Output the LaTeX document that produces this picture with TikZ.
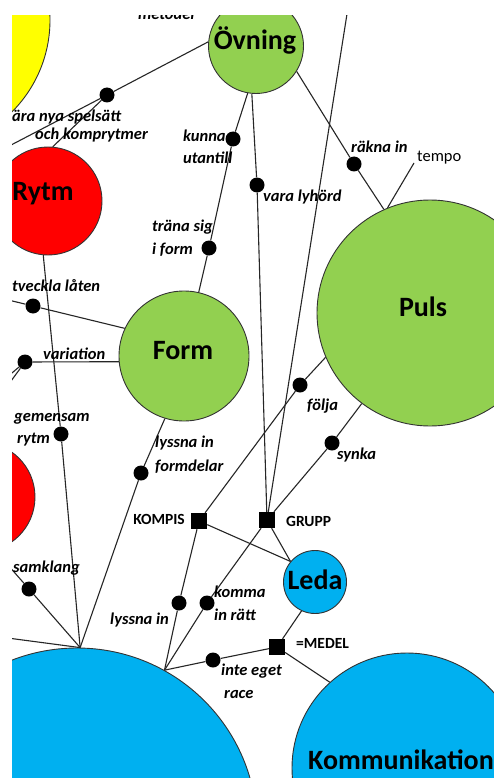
\documentclass[tikz,border=0pt]{standalone}
\usepackage{fontspec}
\setmainfont{Carlito}
\definecolor{gr}{HTML}{92D050}
\definecolor{bl}{HTML}{00B0F0}
\definecolor{rd}{HTML}{FF0000}
\definecolor{yl}{HTML}{FFFF00}
\begin{document}
\begin{tikzpicture}[x=1pt,y=-1pt,
  bub/.style={circle,draw=black!80,line width=0.9pt,inner sep=0pt,minimum size=#1},
  ttl/.style={font=\fontsize{28}{30}\selectfont\bfseries,inner sep=0pt},
  bead/.style={circle,fill=black,inner sep=0pt,minimum size=15pt},
  sq/.style={rectangle,fill=black,inner sep=0pt,minimum size=16pt},
  lnk/.style={line width=1.1pt,draw=black!85},
  lab/.style={font=\fontsize{16.5}{18}\selectfont\bfseries\itshape,inner sep=0pt,anchor=base west},
  uptag/.style={font=\fontsize{16.5}{18}\selectfont,inner sep=0pt,anchor=base west},
  captag/.style={font=\fontsize{15.5}{18}\selectfont\bfseries,inner sep=0pt,anchor=base west},
]
\useasboundingbox (0,0) rectangle (494,778);
\fill[white] (0,0) rectangle (494,778);
\begin{scope}
\clip (12,16) rectangle (494,778);
% bubbles
\node[bub=260pt,fill=yl] (yel) at (-80,20) {};
\node[bub=95pt,fill=gr] (ovn) at (256,46) {};
\node[bub=108pt,fill=rd] (rytm) at (48,201) {};
\node[bub=130pt,fill=gr] (form) at (184,356) {};
\node[bub=226pt,fill=gr] (puls) at (430,313) {};
\node[bub=110pt,fill=rd] (red2) at (-20,497) {};
\node[bub=360pt,fill=bl] (bigb) at (77,828) {};
\node[bub=63pt,fill=bl] (leda) at (315,582) {};
\node[bub=230pt,fill=bl] (komm) at (407,768) {};
% titles
\node[ttl] (tOvn) at (255,40) {Övning};
\node[ttl] (tRytm) at (43,194) {Rytm};
\node[ttl] (tForm) at (183,351) {Form};
\node[ttl] (tPuls) at (423,307) {Puls};
\node[ttl] (tLeda) at (315,580) {Leda};
\node[ttl,anchor=west] (tKomm) at (308,760) {Kommunikation};
% dots and squares
\node[bead] (d1) at (107,95) {};
\node[bead] (d2) at (233,139) {};
\node[bead] (d3) at (209,248) {};
\node[bead] (d4) at (257,185) {};
\node[bead] (d5) at (354,164) {};
\node[bead] (d6) at (33,306) {};
\node[bead] (d7) at (25,362) {};
\node[bead] (d8) at (61,434) {};
\node[bead] (d9) at (141,473) {};
\node[bead] (d10) at (29,589) {};
\node[bead] (d11) at (179,603) {};
\node[bead] (d12) at (207,603) {};
\node[bead] (d13) at (213,660) {};
\node[bead] (d14) at (300,385) {};
\node[bead] (d15) at (332,443) {};
\node[sq] (kompis) at (199,521) {};
\node[sq] (grupp) at (267,520) {};
\node[sq] (medel) at (277,647) {};
% free ends
\coordinate (hubA) at (bigb.89);
\coordinate (hubB) at (bigb.61.7);
\coordinate (offA) at (-10,156);
\coordinate (offU) at (0,298);
\coordinate (offV1) at (0,383);
\coordinate (offV2) at (0,396);
\coordinate (offS) at (0,556);
\coordinate (offL) at (0,637);
\coordinate (offT) at (350,-5);
\coordinate (tempoEnd) at (414,163);
% connectors
\draw[lnk] (ovn.175) -- (d1) -- (offA);
\draw[lnk] (d1) -- (rytm.85);
\draw[lnk] (ovn.260) -- (d2) -- (d3) -- (form.77);
\draw[lnk] (ovn.265) -- (d4) -- (grupp);
\draw[lnk] (ovn.328) -- (d5) -- (puls.114);
\draw[lnk] (puls.112) -- (tempoEnd);
\draw[lnk] (form.155) -- (d6) -- (offU);
\draw[lnk] (form.185) -- (d7);
\draw[lnk] (d7) -- (offV1);
\draw[lnk] (d7) -- (offV2);
\draw[lnk] (rytm.265) -- (d8) -- (hubA);
\draw[lnk] (form.253) -- (d9) -- (hubA);
\draw[lnk] (hubA) -- (d10) -- (offS);
\draw[lnk] (offL) -- (hubA);
\draw[lnk] (hubB) -- (d11) -- (kompis);
\draw[lnk] (hubB) -- (d12) -- (grupp);
\draw[lnk] (hubB) -- (d13) -- (medel);
\draw[lnk] (kompis) -- (d14) -- (puls.203);
\draw[lnk] (grupp) -- (d15) -- (puls.233);
\draw[lnk] (grupp) -- (offT);
\draw[lnk] (kompis) -- (leda.140);
\draw[lnk] (grupp) -- (leda.140);
\draw[lnk] (leda.245) -- (medel);
\draw[lnk] (medel) -- (komm.132);
% labels
\node[lab] (lMet) at (138,20) {metoder};
\node[lab] (lGo1) at (12,122) {ära nya spelsätt};
\node[lab] (lGo2) at (35,140) {och komprytmer};
\node[lab] (lKu1) at (183,142) {kunna};
\node[lab] (lKu2) at (183,164) {utantill};
\node[lab] (lTr1) at (152,231) {träna sig};
\node[lab] (lTr2) at (152,254) {i form};
\node[lab] (lVa) at (263,201) {vara lyhörd};
\node[lab] (lRa) at (351,153) {räkna in};
\node[uptag] (lTe) at (417,162) {tempo};
\node[lab] (lUt) at (12,291) {tveckla låten};
\node[lab] (lVar) at (43,359) {variation};
\node[lab] (lGe1) at (14,421) {gemensam};
\node[lab] (lGe2) at (17,443) {rytm};
\node[lab] (lLy1) at (155,447) {lyssna in};
\node[lab] (lLy2) at (155,471) {formdelar};
\node[lab] (lSa) at (13,572) {samklang};
\node[lab] (lLi) at (110,624) {lyssna in};
\node[lab] (lKo1) at (214,597) {komma};
\node[lab] (lKo2) at (214,620) {in rätt};
\node[lab] (lIn1) at (221,675) {inte eget};
\node[lab] (lIn2) at (224,698) {race};
\node[captag,anchor=base east] (lKom) at (185,524) {KOMPIS};
\node[captag] (lGr) at (286,526) {GRUPP};
\node[captag] (lMe) at (296,648) {=MEDEL};
\node[lab] (lFo) at (307,410) {följa};
\node[lab] (lSy) at (337,459) {synka};
\end{scope}
\end{tikzpicture}
\end{document}
